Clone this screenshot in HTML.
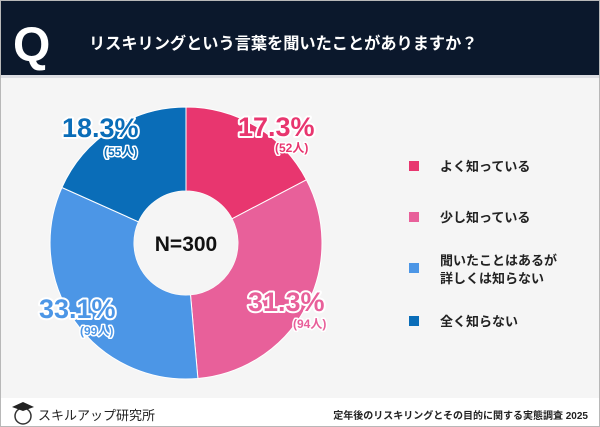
<!DOCTYPE html>
<html><head><meta charset="utf-8"><style>
body{margin:0;width:600px;height:427px;overflow:hidden;background:#f5f5f5;font-family:"Liberation Sans","Noto Sans CJK JP",sans-serif;}
</style></head><body>
<svg width="600" height="427" viewBox="0 0 600 427" xmlns="http://www.w3.org/2000/svg" style="position:absolute;left:0;top:0">
<rect x="0" y="0" width="600" height="427" fill="#f5f5f5"/>
<rect x="0" y="0" width="600" height="75" fill="#0b182c"/>
<rect x="0" y="75" width="600" height="3" fill="#dcdde2"/>
<text x="13" y="61" font-family="Liberation Sans, sans-serif" font-weight="bold" font-size="48" fill="#fff">Q</text>
<text x="89" y="49" font-family="Liberation Sans, Noto Sans CJK JP, sans-serif" font-weight="bold" font-size="16.2" fill="#fff">リスキリングという言葉を聞いたことがありますか？</text>
<g stroke="#fff" stroke-width="1">
<path d="M186 107 A136 136 0 0 1 306.4 179.8 L232 218.8 A52 52 0 0 0 186 191 Z" fill="#e8366f"/>
<path d="M306.4 179.8 A136 136 0 0 1 197.9 378.5 L190.5 294.8 A52 52 0 0 0 232 218.8 Z" fill="#e8609a"/>
<path d="M197.9 378.5 A136 136 0 0 1 61.9 187.5 L138.5 221.8 A52 52 0 0 0 190.5 294.8 Z" fill="#4c96e6"/>
<path d="M61.9 187.5 A136 136 0 0 1 186 107 L186 191 A52 52 0 0 0 138.5 221.8 Z" fill="#0a6db8"/>
</g>
<circle cx="186" cy="243" r="52" fill="#f5f5f5"/>
<text x="186" y="251" text-anchor="middle" font-weight="bold" font-size="21" fill="#111">N=300</text>
<g font-weight="bold" paint-order="stroke" stroke="#fff" stroke-linejoin="round">
<text x="238" y="136" font-size="27" fill="#e8366f" stroke-width="4">17.3%</text>
<text x="275" y="152" font-size="12" fill="#e8366f" stroke-width="3">(52人)</text>
<text x="248" y="311" font-size="27" fill="#e8609a" stroke-width="4">31.3%</text>
<text x="293" y="328" font-size="12" fill="#e8609a" stroke-width="3">(94人)</text>
<text x="39" y="318" font-size="27" fill="#4c96e6" stroke-width="4">33.1%</text>
<text x="80" y="335" font-size="12" fill="#4c96e6" stroke-width="3">(99人)</text>
<text x="62" y="137" font-size="27" fill="#0a6db8" stroke-width="4">18.3%</text>
<text x="104" y="156" font-size="12" fill="#0a6db8" stroke-width="3">(55人)</text>
</g>
<rect x="409" y="161" width="10" height="10" fill="#e8366f"/>
<rect x="409" y="212" width="10" height="10" fill="#e8609a"/>
<rect x="409" y="263" width="10" height="10" fill="#4c96e6"/>
<rect x="409" y="316" width="10" height="10" fill="#0a6db8"/>
<g font-weight="bold" font-size="13" fill="#222">
<text x="440" y="171">よく知っている</text>
<text x="440" y="222">少し知っている</text>
<text x="440" y="265">聞いたことはあるが</text>
<text x="440" y="283">詳しくは知らない</text>
<text x="440" y="326">全く知らない</text>
</g>
<rect x="0" y="398" width="600" height="29" fill="#fff"/>
<rect x="0.5" y="0.5" width="599" height="426" fill="none" stroke="#b8b8b8"/>
<circle cx="23" cy="416" r="8" fill="#fff" stroke="#333" stroke-width="1.5"/>
<path d="M12 407 L23 402 L34 407 L23 411 Z" fill="#222"/>
<text x="38" y="420" font-size="13" fill="#222">スキルアップ研究所</text>
<text x="588" y="419" text-anchor="end" font-size="10" font-weight="bold" fill="#222">定年後のリスキリングとその目的に関する実態調査 2025</text>
</svg>
</body></html>
